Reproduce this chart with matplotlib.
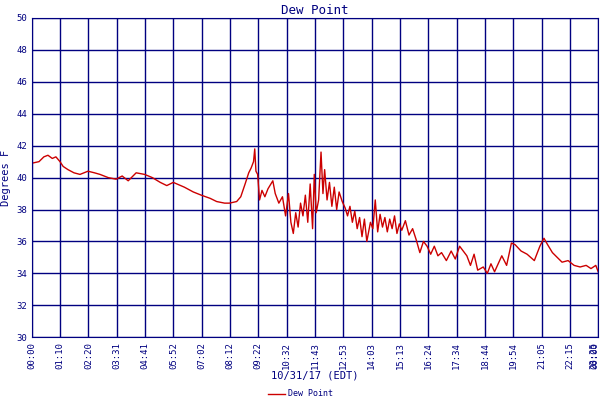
#!/usr/bin/env python3

import matplotlib
matplotlib.use("Agg")
import matplotlib.pyplot as plt

# time in hours, dew point in F
times = [0.0, 0.3, 0.5, 0.67, 0.85, 1.0, 1.17, 1.3, 1.5, 1.75, 2.0, 2.33, 2.6, 2.83,
         3.17, 3.5, 3.75, 4.0, 4.33, 4.68, 5.0, 5.33, 5.6, 5.87, 6.33, 6.7, 7.03, 7.4,
         7.67, 8.0, 8.2, 8.5, 8.67, 8.85, 9.0, 9.1, 9.2, 9.25, 9.3, 9.37, 9.45, 9.55,
         9.67, 9.8, 10.0, 10.1, 10.25, 10.4, 10.53, 10.65, 10.75, 10.85, 10.95, 11.05,
         11.15, 11.25, 11.35, 11.45, 11.55, 11.65, 11.72, 11.8, 11.9, 12.0, 12.08, 12.15,
         12.25, 12.35, 12.45, 12.55, 12.65, 12.75, 12.88, 13.0, 13.1, 13.2, 13.3, 13.4,
         13.5, 13.6, 13.7, 13.8, 13.9, 14.05, 14.15, 14.25, 14.35, 14.45, 14.55, 14.65,
         14.75, 14.85, 14.95, 15.05, 15.15, 15.25, 15.35, 15.5, 15.65, 15.8, 15.95,
         16.1, 16.25, 16.4, 16.55, 16.7, 16.85, 17.0, 17.2, 17.4, 17.57, 17.75, 17.9,
         18.05, 18.2, 18.35, 18.5, 18.73, 18.9, 19.05, 19.2, 19.35, 19.5, 19.7, 19.9,
         20.05, 20.3, 20.55, 20.85, 21.08, 21.25, 21.4, 21.6, 21.8, 22.0, 22.25, 22.5,
         22.75, 23.0, 23.2, 23.4, 23.5]
dewpoint = [40.9, 41.0, 41.3, 41.4, 41.2, 41.3, 41.0, 40.7, 40.5, 40.3, 40.2, 40.4, 40.3, 40.2,
            40.0, 39.9, 40.1, 39.8, 40.3, 40.2, 40.0, 39.7, 39.5, 39.7, 39.4, 39.1, 38.9, 38.7,
            38.5, 38.4, 38.4, 38.5, 38.8, 39.6, 40.3, 40.6, 41.0, 41.8, 40.4, 40.2, 38.6, 39.2,
            38.8, 39.3, 39.8, 39.0, 38.4, 38.8, 37.6, 39.0, 37.2, 36.5, 37.8, 36.9,
            38.4, 37.6, 38.9, 37.2, 39.6, 36.8, 40.2, 37.8, 38.6, 41.6, 39.0, 40.5,
            38.6, 39.7, 38.2, 39.4, 38.0, 39.1, 38.5, 38.1, 37.6, 38.2, 37.2, 37.9,
            36.8, 37.5, 36.3, 37.4, 36.0, 37.2, 36.8, 38.6, 36.6, 37.7, 36.9, 37.5,
            36.6, 37.4, 36.8, 37.6, 36.5, 37.1, 36.7, 37.3, 36.4, 36.8, 36.1,
            35.3, 36.0, 35.7, 35.2, 35.7, 35.1, 35.3, 34.8, 35.4, 34.9, 35.7, 35.4,
            35.1, 34.5, 35.2, 34.2, 34.4, 34.0, 34.6, 34.1, 34.6, 35.1, 34.5, 35.9,
            35.8, 35.4, 35.2, 34.8, 35.7, 36.2, 35.8, 35.3, 35.0, 34.7, 34.8, 34.5,
            34.4, 34.5, 34.3, 34.5, 34.1]
tick_labels = ["00:00", "01:10", "02:20", "03:31", "04:41", "05:52", "07:02", "08:12",
               "09:22", "10:32", "11:43", "12:53", "14:03", "15:13", "16:24", "17:34",
               "18:44", "19:54", "21:05", "22:15", "23:25"]

navy = "#000080"
plt.rcParams["font.family"] = "DejaVu Sans Mono"

fig = plt.figure(figsize=(6, 4), dpi=100)
ax = fig.add_axes([0.053, 0.157, 0.944, 0.798])
ax.plot(times, dewpoint, color="#cc0000", linewidth=1)

step = 23.5 / 20
ax.set_xlim(0, 23.5)
ax.set_ylim(30, 50)
ax.set_xticks([i * step for i in range(21)])
ax.set_xticklabels(tick_labels, rotation=90, fontsize=6.5, color=navy)
ax.get_xticklabels()[-1].set_ha("right")
ax.set_yticks(range(30, 51, 2))
ax.tick_params(axis="y", labelsize=6.5, labelcolor=navy, length=0)
ax.tick_params(axis="x", length=0)
ax.grid(color=navy, linewidth=1)
for s in ax.spines.values():
    s.set_color(navy)
fig.text(0.999, 0.145, "00:00", rotation=90, fontsize=6.5, color=navy,
         ha="right", va="top")

ax.set_title("Dew Point", color=navy, fontsize=9, pad=3)
ax.set_ylabel("Degrees F", color=navy, fontsize=7.5)
fig.text(0.525, 0.055, "10/31/17 (EDT)", color=navy, fontsize=7.5, ha="center")
fig.lines.append(plt.Line2D([0.447, 0.475], [0.015, 0.015], color="#cc0000",
                            linewidth=1, transform=fig.transFigure))
fig.text(0.48, 0.015, "Dew Point", color=navy, fontsize=6, va="center")

plt.savefig("out.png", dpi=100)
